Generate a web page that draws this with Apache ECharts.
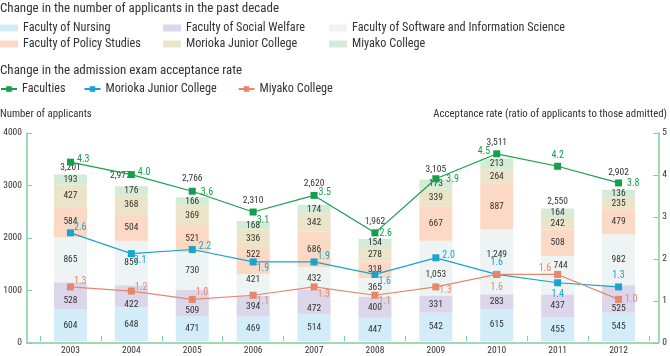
<!DOCTYPE html>
<html><head><meta charset="utf-8">
<script src="https://cdn.jsdelivr.net/npm/echarts@6/dist/echarts.min.js"></script>
<style>html,body{margin:0;padding:0;background:#fff}#c{width:670px;height:356px}</style>
</head><body><div id="c"></div>
<script>
const years = ['2003','2004','2005','2006','2007','2008','2009','2010','2011','2012'];
const nursing = [604,648,471,469,514,447,542,615,455,545];
const socialWelfare = [528,422,509,394,472,400,331,283,437,525];
const software = [865,859,730,421,432,365,1053,1249,744,982];
const policy = [584,504,521,522,686,318,667,887,508,479];
const moriokaJC = [427,368,369,336,342,278,339,264,242,235];
const miyako = [193,176,166,168,174,154,173,213,164,136];
const totals = [3201,2977,2766,2310,2620,1962,3105,3511,2550,2902];
const rateFaculties = [4.3,4.0,3.6,3.1,3.5,2.6,3.9,4.5,4.2,3.8];
const rateMorioka = [2.6,2.1,2.2,1.9,1.9,1.6,2.0,1.6,1.4,1.3];
const rateMiyako = [1.3,1.2,1.0,1.1,1.3,1.1,1.3,1.6,1.6,1.0];
const leftTicks = [0,4000,1000];
const rightTicks = [0,5,1];

// label placement (style only)
const totalOffsets = [[0,3],[-11,-1],[0,-9],[0,-10],[0,-11],[0,-7],[0,0],[0,-6],[0,3],[0,-7]];
// nudges of in-bar labels: [seriesIndex][dataIndex] -> [dx,dy]
const segNudge = {1:{0:[0,5],1:[0,8],2:[0,7],4:[0,7],9:[0,10]}, 2:{3:[0,-6],6:[0,6],7:[0,-7],8:[3,-10]}, 3:{3:[0,-6]}};
const facPos = [['right',[0,-3]],['right',[0,-2]],['right',[2,1]],['right',[-3,8]],['right',[-2,-3]],['right',[-2,1]],['right',[4,1]],['left',[0,-2]],['top',[0,1]],['right',[2,1]]];
const morPos = [['right',[-3,-5]],['right',[-4,7]],['right',[0,-3]],['right',[-3,7]],['right',[-3,-5]],['right',[-3,7]],['right',[0,-2]],['top',[0,0]],['bottom',[0,0]],['top',[0,0]]];
const miyPos = [['right',[-3,-5]],['right',[-3,-4]],['right',[-3,-7]],['right',[-3,6]],['right',[-3,8]],['right',[-3,6]],['right',[-3,4]],['bottom',[0,2]],['left',[0,-6]],['right',[0,0]]];

const FONT = '"Roboto Condensed","Liberation Sans",sans-serif';
const AX = '#7fcf9a';
const TXT = '#333';
const fmt = v => Number(v).toLocaleString('en-US');

const barColors = ['#d3ecf9','#dcd6ea','#eef4f3','#fcd9c5','#ebe4c8','#d4ebd8'];
const barNames = ['Faculty of Nursing','Faculty of Social Welfare','Faculty of Software and Information Science','Faculty of Policy Studies','Morioka Junior College','Miyako College'];
const barData = [nursing, socialWelfare, software, policy, moriokaJC, miyako];

const series = barData.map((d,si)=>({
  name: barNames[si], type:'bar', stack:'apps', xAxisIndex:0, yAxisIndex:0,
  barWidth:33, itemStyle:{color:barColors[si]},
  label:{show:true, position:'inside', color:TXT, fontSize:9.5, fontFamily:FONT, formatter:p=>fmt(p.value)},
  data:d.map((v,i)=>{
    const off = segNudge[si] && segNudge[si][i];
    return off ? {value:v, label:{offset:off}} : v;
  }), z:2
}));
series.push({
  name:'total', type:'bar', stack:'apps', xAxisIndex:0, yAxisIndex:0, barWidth:33,
  itemStyle:{color:'transparent'},
  data: totals.map((t,i)=>({value:0, label:{offset:totalOffsets[i]}})),
  label:{show:true, position:'top', color:TXT, fontSize:9.5, fontFamily:FONT, formatter:p=>fmt(totals[p.dataIndex])},
  z:3
});
function lineSeries(name, data, color, pos){
  return {
    name, type:'line', xAxisIndex:0, yAxisIndex:1, symbol:'rect', symbolSize:7,
    lineStyle:{color, width:1.2}, itemStyle:{color},
    data: data.map((v,i)=>({value:v, label:{position:pos[i][0], offset:pos[i][1]}})),
    label:{show:true, color, fontSize:10, fontFamily:FONT, distance:3, formatter:p=>p.value.toFixed(1)},
    z:5
  };
}
series.push(lineSeries('Faculties', rateFaculties, '#14a04a', facPos));
series.push(lineSeries('Morioka Junior College ', rateMorioka, '#1aa3cb', morPos));
series.push(lineSeries('Miyako College ', rateMiyako, '#e8866a', miyPos));

const legText = {fontSize:12.2, color:TXT, fontFamily:FONT};
const barLegend = (left, names) => ({
  left, top:17, orient:'vertical', itemWidth:18, itemHeight:7, itemGap:4,
  icon:'rect', data:names, textStyle:legText, selectedMode:false
});
const ttl = (size) => ({fontSize:size, fontWeight:'normal', color:TXT, fontFamily:FONT});

const opt = {
  animation:false,
  textStyle:{fontFamily:FONT},
  title:[
    {text:'Change in the number of applicants in the past decade', left:-5, top:-3, textStyle:ttl(13)},
    {text:'Change in the admission exam acceptance rate', left:-5, top:59, textStyle:ttl(13)},
    {text:'Number of applicants', left:-5, top:104, textStyle:ttl(10.8)},
    {text:'Acceptance rate (ratio of applicants to those admitted)', right:-2, top:104, textStyle:ttl(10.8)}
  ],
  legend:[
    barLegend(-5, ['Faculty of Nursing','Faculty of Policy Studies']),
    barLegend(158, ['Faculty of Social Welfare','Morioka Junior College']),
    barLegend(324, ['Faculty of Software and Information Science','Miyako College']),
    {left:-5, top:78, itemWidth:16, itemHeight:7, itemGap:18, selectedMode:false,
     data:['Faculties','Morioka Junior College ','Miyako College '], textStyle:legText}
  ],
  grid:[
    {left:40, right:21, top:133, bottom:13},
    {left:27, right:10, top:133, bottom:13}
  ],
  xAxis:[
    {type:'category', gridIndex:0, data:years, boundaryGap:true,
     axisLine:{show:false}, axisTick:{show:true, inside:true, length:5, lineStyle:{color:AX}},
     axisLabel:{color:TXT, fontSize:9.5, margin:5, fontFamily:FONT}},
    {type:'value', gridIndex:1, min:0, max:1, axisLine:{show:true, lineStyle:{color:AX, width:1.5}},
     axisTick:{show:false}, axisLabel:{show:false}, splitLine:{show:false}}
  ],
  yAxis:[
    {type:'value', gridIndex:0, min:leftTicks[0], max:leftTicks[1], interval:leftTicks[2], show:false},
    {type:'value', gridIndex:0, min:rightTicks[0], max:rightTicks[1], interval:rightTicks[2], show:false},
    {type:'value', gridIndex:1, position:'left', min:leftTicks[0], max:leftTicks[1], interval:leftTicks[2],
     axisLine:{show:true, lineStyle:{color:AX, width:1.5}}, axisTick:{show:true, inside:true, length:5, lineStyle:{color:AX}},
     axisLabel:{color:TXT, fontSize:9.5, margin:5, fontFamily:FONT, formatter:v=>String(v)}, splitLine:{show:false}},
    {type:'value', gridIndex:1, position:'right', min:rightTicks[0], max:rightTicks[1], interval:rightTicks[2],
     axisLine:{show:true, lineStyle:{color:AX, width:1.5}}, axisTick:{show:true, inside:true, length:5, lineStyle:{color:AX}},
     axisLabel:{color:TXT, fontSize:9.5, margin:4, fontFamily:FONT}, splitLine:{show:false}}
  ],
  series
};
const chart = echarts.init(document.getElementById('c'), null, {renderer:'canvas'});
chart.setOption(opt);
</script></body></html>
